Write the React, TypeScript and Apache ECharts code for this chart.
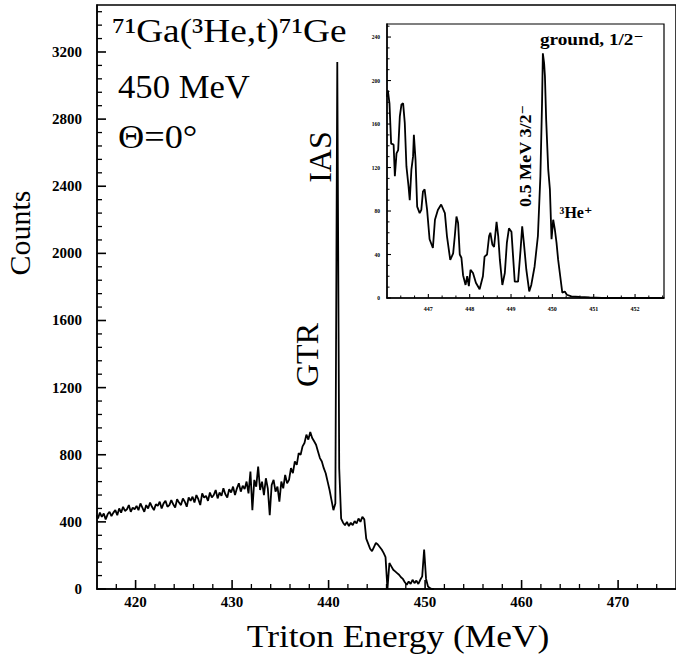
import React, { useEffect, useRef } from "react";
import * as echarts from "echarts";

// Main spectrum: channel counts starting at 415.9 MeV, 0.2 MeV per channel
const mainStartEnergy = 415.9;
const mainChannelWidth = 0.2;
const mainCounts = [
  440, 420, 455, 430, 450, 415, 445, 460, 435, 455,
  470, 440, 480, 455, 490, 465, 475, 500, 460, 485,
  475, 495, 470, 510, 485, 460, 500, 480, 515, 490,
  470, 505, 495, 520, 480, 510, 525, 490, 500, 530,
  505, 485, 535, 515, 500, 540, 520, 490, 545, 525,
  550, 515, 560, 535, 500, 570, 545, 555, 525, 575,
  545, 560, 590, 540, 575, 555, 600, 565, 545, 595,
  575, 610, 560, 600, 630, 580, 615, 595, 640, 570,
  700, 470, 650, 610, 730, 590, 640, 560, 660, 600,
  440, 620, 650, 580, 610, 520, 640, 600, 680, 630,
  650, 720, 690, 760, 740, 810, 800, 850, 870, 920,
  890, 935, 900, 880, 860, 820, 780, 760, 720, 690,
  640, 590, 530, 470, 510, 3140, 720, 420, 395, 380,
  400, 375, 395, 380, 405, 390, 420, 400, 430, 415,
  300, 270, 240, 225, 250, 275, 265, 250, 235, 215,
  190, 0, 155, 135, 115, 105, 95, 85, 70, 60,
  40, 25, 45, 30, 55, 35, 50, 30, 55, 75,
  235, 60, 15, 5, 0, 0,
];

// Inset spectrum
const insetEnergies = [
  446.0, 446.02, 446.06, 446.1, 446.16, 446.19, 446.23, 446.27, 446.31, 446.35,
  446.39, 446.43, 446.47, 446.52, 446.55, 446.59, 446.63, 446.65, 446.69, 446.73,
  446.79, 446.83, 446.87, 446.91, 446.97, 447.03, 447.11, 447.16, 447.23, 447.31,
  447.4, 447.45, 447.53, 447.6, 447.64, 447.68, 447.72, 447.76, 447.8, 447.84,
  447.9, 447.94, 447.98, 448.02, 448.08, 448.15, 448.24, 448.32, 448.36, 448.42,
  448.47, 448.5, 448.55, 448.59, 448.65, 448.69, 448.73, 448.79, 448.85, 448.9,
  448.95, 449.01, 449.05, 449.09, 449.17, 449.23, 449.27, 449.31, 449.37, 449.44,
  449.49, 449.57, 449.65, 449.71, 449.75, 449.77, 449.8, 449.82, 449.85, 449.9,
  449.94, 449.98, 450.02, 450.06, 450.1, 450.14, 450.19, 450.24, 450.3, 450.35,
  450.46, 450.66, 450.9, 451.2, 452.7,
];
const insetCounts = [
  185, 191, 179, 142, 141, 112, 133, 136, 167, 178,
  179, 161, 121, 103, 90, 118, 130, 150, 127, 84,
  78, 81, 98, 100, 81, 54, 46, 72, 81, 86,
  78, 57, 35, 41, 57, 75, 69, 40, 37, 21,
  12, 20, 11, 26, 23, 14, 8, 20, 38, 40,
  57, 60, 49, 47, 70, 57, 35, 12, 23, 51,
  64, 61, 38, 15, 15, 44, 66, 51, 26, 6,
  12, 29, 57, 112, 179, 225, 216, 204, 164, 118,
  100, 54, 72, 63, 51, 35, 20, 5, 6, 3,
  1.5, 1, 0.5, 0, 0,
];

// Axis tick values
const mainXTicks = [420, 430, 440, 450, 460, 470];
const mainYTicks = [0, 400, 800, 1200, 1600, 2000, 2400, 2800, 3200];
const insetXTicks = [447, 448, 449, 450, 451, 452];
const insetYTicks = [0, 40, 80, 120, 160, 200, 240];
const mainXMinorTicks = [418, 422, 424, 426, 428, 432, 434, 436, 438, 442, 444, 446, 448, 452, 454, 456, 458, 462, 464, 466, 468, 472, 474];
const mainYMinorTicks = [
  80, 160, 240, 320, 480, 560, 640, 720, 880, 960, 1040, 1120, 1280, 1360, 1440, 1520,
  1680, 1760, 1840, 1920, 2080, 2160, 2240, 2320, 2480, 2560, 2640, 2720, 2880, 2960,
  3040, 3120, 3280, 3360, 3440,
];
const insetXMinorTicks = [
  446.333, 446.667, 447.333, 447.667, 448.333, 448.667, 449.333, 449.667,
  450.333, 450.667, 451.333, 451.667, 452.333, 452.667,
];
const insetYMinorTicks = [
  10, 20, 30, 50, 60, 70, 90, 100, 110, 130, 140, 150, 170, 180, 190, 210, 220, 230, 250,
];

const titleReaction = "⁷¹Ga(³He,t)⁷¹Ge";
const titleBeam = "450 MeV";
const titleAngle = "Θ=0°";
const xTitle = "Triton Energy (MeV)";
const yTitle = "Counts";

export default function App() {
  const ref = useRef<HTMLDivElement>(null);
  useEffect(() => {
    const chart = echarts.init(ref.current!, null, { renderer: "svg" });
    const serif = "'Liberation Serif', 'DejaVu Serif', serif";
    const mainData = mainCounts.map((c, i) => [
      Number((mainStartEnergy + i * mainChannelWidth).toFixed(1)),
      c,
    ]);
    const insetData = insetEnergies.map((e, i) => [e, insetCounts[i]]);
    const black = "#000";
    const plain = (v: number) => String(v);

    const textEl = (
      text: string,
      x: number,
      y: number,
      fontSize: number,
      opts: any = {}
    ) => ({
      type: "text",
      x,
      y,
      rotation: opts.rotation || 0,
      scaleX: opts.scaleX || 1,
      z: 100,
      style: {
        text,
        fill: black,
        font: `${opts.bold ? "bold " : ""}${fontSize}px ${serif}`,
        align: opts.align || "left",
        verticalAlign: "middle",
      },
    });

    const axisLabelStyle = (size: number, margin: number, values: number[]) => ({
      show: true,
      customValues: values,
      formatter: plain,
      color: black,
      fontFamily: serif,
      fontWeight: "bold",
      fontSize: size,
      margin,
    });

    const axisLine = { show: true, onZero: false, lineStyle: { color: black, width: 1.5 } };

    const texts = [
      textEl(titleReaction, 112, 31, 33, { scaleX: 1.13 }),
      textEl(titleBeam, 118, 87, 33, { scaleX: 1.05 }),
      textEl(titleAngle, 118, 137, 33, { scaleX: 1.1 }),
      textEl("IAS", 320, 157, 32, { rotation: Math.PI / 2, align: "center" }),
      textEl("GTR", 307, 355, 32, { rotation: Math.PI / 2, align: "center" }),
      textEl(yTitle, 19, 233, 30, { rotation: Math.PI / 2, align: "center" }),
      textEl(xTitle, 398, 636, 31, { align: "center", scaleX: 1.14 }),
      textEl("ground, 1/2⁻", 540, 40, 16, { bold: true, scaleX: 1.2 }),
      textEl("0.5 MeV 3/2⁻", 526, 156, 16, { bold: true, rotation: Math.PI / 2, align: "center", scaleX: 1.13 }),
      textEl("³He⁺", 576, 212, 16, { bold: true, align: "center" }),
    ];

    chart.setOption({
      animation: false,
      backgroundColor: "#fff",
      grid: [
        { left: 97, top: 5, right: -7, bottom: 68, show: true, borderColor: black, borderWidth: 1.5 },
        { left: 387, top: 24, width: 277, height: 274, show: true, borderColor: black, borderWidth: 1.2 },
      ],
      xAxis: [
        {
          gridIndex: 0, type: "value", min: 416, max: 476, position: "bottom",
          axisLine, axisTick: { show: false },
          axisLabel: axisLabelStyle(15, 5, mainXTicks),
          splitLine: { show: false },
        },
        {
          gridIndex: 1, type: "value", min: 446, max: 452.7, position: "bottom",
          axisLine, axisTick: { show: false },
          axisLabel: axisLabelStyle(6, 8, insetXTicks),
          splitLine: { show: false },
        },
      ],
      yAxis: [
        {
          gridIndex: 0, type: "value", min: 0, max: 3480, position: "left",
          axisLine, axisTick: { show: false },
          axisLabel: axisLabelStyle(15, 15, mainYTicks),
          splitLine: { show: false },
        },
        {
          gridIndex: 1, type: "value", min: 0, max: 252, position: "left",
          axisLine, axisTick: { show: false },
          axisLabel: axisLabelStyle(5.5, 7, insetYTicks),
          splitLine: { show: false },
        },
      ],
      series: [
        {
          type: "line", xAxisIndex: 0, yAxisIndex: 0, data: mainData,
          showSymbol: false, clip: true,
          lineStyle: { color: black, width: 1.8 },
        },
        {
          type: "line", xAxisIndex: 1, yAxisIndex: 1, data: insetData,
          showSymbol: false, clip: true,
          lineStyle: { color: black, width: 1.8 },
        },
      ],
      graphic: texts,
    });

    // Inward axis ticks as thin filled bars; positions from the axes' scales
    const tickBars: any[] = [];
    const addTicks = (
      gridIndex: number,
      dir: "x" | "y",
      values: number[],
      anchor: number,
      len: number,
      width: number
    ) => {
      values.forEach((v) => {
        const p = chart.convertToPixel({ gridIndex }, dir === "x" ? [v, anchor] : [anchor, v]) as number[];
        if (!p || !isFinite(p[0]) || !isFinite(p[1])) return;
        const shape =
          dir === "x"
            ? { x: p[0] - width / 2, y: p[1] - len, width, height: len }
            : { x: p[0], y: p[1] - width / 2, width: len, height: width };
        tickBars.push({
          type: "rect",
          shape,
          z: 50,
          silent: true,
          style: { fill: black },
        });
      });
    };
    addTicks(0, "x", mainXTicks, 0, 9, 1.6);
    addTicks(0, "x", mainXMinorTicks, 0, 5, 1.3);
    addTicks(0, "y", mainYTicks, 416, 9, 1.6);
    addTicks(0, "y", mainYMinorTicks, 416, 5, 1.3);
    addTicks(1, "x", insetXTicks, 0, 4, 1.1);
    addTicks(1, "x", insetXMinorTicks, 0, 2.5, 1);
    addTicks(1, "y", insetYTicks, 446, 4, 1.1);
    addTicks(1, "y", insetYMinorTicks, 446, 2.5, 1);

    chart.setOption({ graphic: [...texts, ...tickBars] });

    return () => chart.dispose();
  }, []);
  return (
    <div
      ref={ref}
      style={{ position: "absolute", left: 0, top: 0, width: 676, height: 657 }}
    />
  );
}
